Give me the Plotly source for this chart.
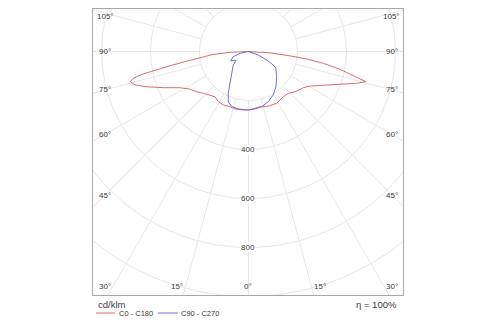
import math
import plotly.graph_objects as go

# ---------------- data (gamma angle in degrees, intensity in cd/klm) ----------------
GAMMA_C0 = [0, 6.5, 11.8, 18.2, 23.4, 28.6, 33, 37.6, 43.6, 49.2, 53.7, 56.6, 60.7, 65.9,
            70.3, 73.6, 75.6, 76.6, 78, 79, 81, 82.7, 84, 86.5, 90]
I_C0 = [239, 233, 230, 237, 238, 241, 236, 233, 236, 251, 261, 268, 288, 335,
        397, 460, 495, 455, 410, 380, 309, 240, 170, 90, 0]

GAMMA_C180 = [0, 6.6, 13.2, 18.5, 25.2, 31, 36.5, 41.5, 47.2, 52.2, 57.3, 62.1, 67, 70.9,
              73.6, 75.7, 77, 78, 78.8, 79.8, 81, 83, 85, 87.5, 90]
I_C180 = [239, 240, 241, 238, 241, 239, 230, 237, 251, 268, 284, 316, 378, 440,
          483, 499, 480, 440, 380, 320, 260, 200, 150, 75, 0]

GAMMA_C90 = [0, 6.4, 13.4, 21.5, 29.7, 38, 48.2, 58.6, 61.4, 65, 70.3, 90]
I_C90 = [239, 236, 232, 220, 204, 182, 154, 131, 115, 82, 42, 0]

GAMMA_C270 = [0, 1.8, 10, 16.9, 21.9, 25.8, 30.2, 37.6, 48.4, 54.2, 62.7, 71.1, 78, 90]
I_C270 = [239, 239, 238, 235, 221, 190, 150, 112, 83, 63, 82, 66, 35, 0]

RINGS = [200, 400, 600, 800, 1000, 1200]
RING_LABELS = [400, 600, 800]
SIDE_ANGLES = [45, 60, 75, 90, 105]
BOTTOM_ANGLES = [15, 30]

RED = "rgb(218,110,110)"
BLUE = "rgb(112,112,212)"
GRID = "#e6e6e6"
TXT = "#3a3a3a"
FONT = "Liberation Sans, Arial, sans-serif"


def half(gammas, values, side):
    xs = [side * v * math.sin(math.radians(g)) for g, v in zip(gammas, values)]
    ys = [-v * math.cos(math.radians(g)) for g, v in zip(gammas, values)]
    return xs, ys


def full_curve(g_left, i_left, g_right, i_right):
    xl, yl = half(g_left, i_left, -1)
    xr, yr = half(g_right, i_right, 1)
    return xl[::-1] + xr, yl[::-1] + yr


fig = go.Figure()

# ---------------- grid ----------------
for r in RINGS:
    ts = [k * 2 * math.pi / 360 for k in range(361)]
    fig.add_trace(go.Scatter(x=[r * math.cos(t) for t in ts], y=[r * math.sin(t) for t in ts],
                             mode="lines", line=dict(color=GRID, width=1),
                             hoverinfo="skip", showlegend=False))
for a in range(-180, 181, 15):
    s, c = math.sin(math.radians(a)), math.cos(math.radians(a))
    fig.add_trace(go.Scatter(x=[200 * s, 1500 * s], y=[-200 * c, -1500 * c],
                             mode="lines", line=dict(color=GRID, width=1),
                             hoverinfo="skip", showlegend=False))

# ---------------- curves ----------------
xr_, yr_ = full_curve(GAMMA_C180, I_C180, GAMMA_C0, I_C0)
fig.add_trace(go.Scatter(x=xr_, y=yr_, mode="lines", line=dict(color=RED, width=1),
                         name="C0 - C180", hoverinfo="skip", showlegend=False))
xb_, yb_ = full_curve(GAMMA_C270, I_C270, GAMMA_C90, I_C90)
fig.add_trace(go.Scatter(x=xb_, y=yb_, mode="lines", line=dict(color=BLUE, width=1),
                         name="C90 - C270", hoverinfo="skip", showlegend=False))

# ---------------- layout geometry ----------------
X_RANGE = [-635, 631]
Y_RANGE = [-994, 173.5]
SIDE_X = 586
BOTTOM_Y = -961
TOP_LIMIT = 141
TICK_SIZE = 8

ann = []
for a in SIDE_ANGLES:
    y = -SIDE_X / math.tan(math.radians(a)) if a != 90 else 0
    y = min(y, TOP_LIMIT)
    for sx in (-1, 1):
        ann.append(dict(x=sx * SIDE_X, y=y, text=f"{a}°", showarrow=False,
                        xanchor="center", yanchor="middle",
                        font=dict(size=TICK_SIZE, color=TXT, family=FONT)))
ann.append(dict(x=0, y=BOTTOM_Y, text="0°", showarrow=False, xanchor="center", yanchor="middle",
                font=dict(size=TICK_SIZE, color=TXT, family=FONT)))
for a in BOTTOM_ANGLES:
    xx = -BOTTOM_Y * math.tan(math.radians(a))
    ann.append(dict(x=-xx, y=BOTTOM_Y, text=f"{a}°", showarrow=False, xanchor="right",
                    yanchor="middle", font=dict(size=TICK_SIZE, color=TXT, family=FONT)))
    ann.append(dict(x=xx, y=BOTTOM_Y, text=f"{a}°", showarrow=False, xanchor="left",
                    yanchor="middle", font=dict(size=TICK_SIZE, color=TXT, family=FONT)))
for r in RING_LABELS:
    ann.append(dict(x=0, y=-r, text=str(r), showarrow=False, xanchor="center", yanchor="middle",
                    bgcolor="white", borderpad=0,
                    font=dict(size=TICK_SIZE, color=TXT, family=FONT)))

# legend / footer (paper coordinates)
def px_x(p):
    return (p - 93) / 310


def px_y(p):
    return (295 - p) / 286


ann.append(dict(xref="paper", yref="paper", x=px_x(96), y=px_y(304), text="cd/klm",
                showarrow=False, xanchor="left", yanchor="middle",
                font=dict(size=9.5, color=TXT, family=FONT)))
ann.append(dict(xref="paper", yref="paper", x=px_x(399), y=px_y(304), text="η = 100%",
                showarrow=False, xanchor="right", yanchor="middle",
                font=dict(size=9.5, color=TXT, family=FONT)))
ann.append(dict(xref="paper", yref="paper", x=px_x(117), y=px_y(313), text="C0 - C180",
                showarrow=False, xanchor="left", yanchor="middle",
                font=dict(size=7.5, color=TXT, family=FONT)))
ann.append(dict(xref="paper", yref="paper", x=px_x(179), y=px_y(313), text="C90 - C270",
                showarrow=False, xanchor="left", yanchor="middle",
                font=dict(size=7.5, color=TXT, family=FONT)))

shapes = [
    dict(type="line", xref="paper", yref="paper", x0=px_x(96), x1=px_x(115),
         y0=px_y(313), y1=px_y(313), line=dict(color=RED, width=1)),
    dict(type="line", xref="paper", yref="paper", x0=px_x(158), x1=px_x(178),
         y0=px_y(313), y1=px_y(313), line=dict(color=BLUE, width=1)),
]

fig.update_layout(
    width=500, height=325,
    margin=dict(l=93, r=97, t=9, b=30),
    paper_bgcolor="white", plot_bgcolor="white",
    showlegend=False,
    annotations=ann, shapes=shapes,
    xaxis=dict(range=X_RANGE, showgrid=False, zeroline=False, showticklabels=False,
               ticks="", showline=True, linecolor="#a8a8a8", linewidth=1, mirror=True,
               fixedrange=True),
    yaxis=dict(range=Y_RANGE, showgrid=False, zeroline=False, showticklabels=False,
               ticks="", showline=True, linecolor="#a8a8a8", linewidth=1, mirror=True,
               fixedrange=True),
)

fig.write_html("out.html")
